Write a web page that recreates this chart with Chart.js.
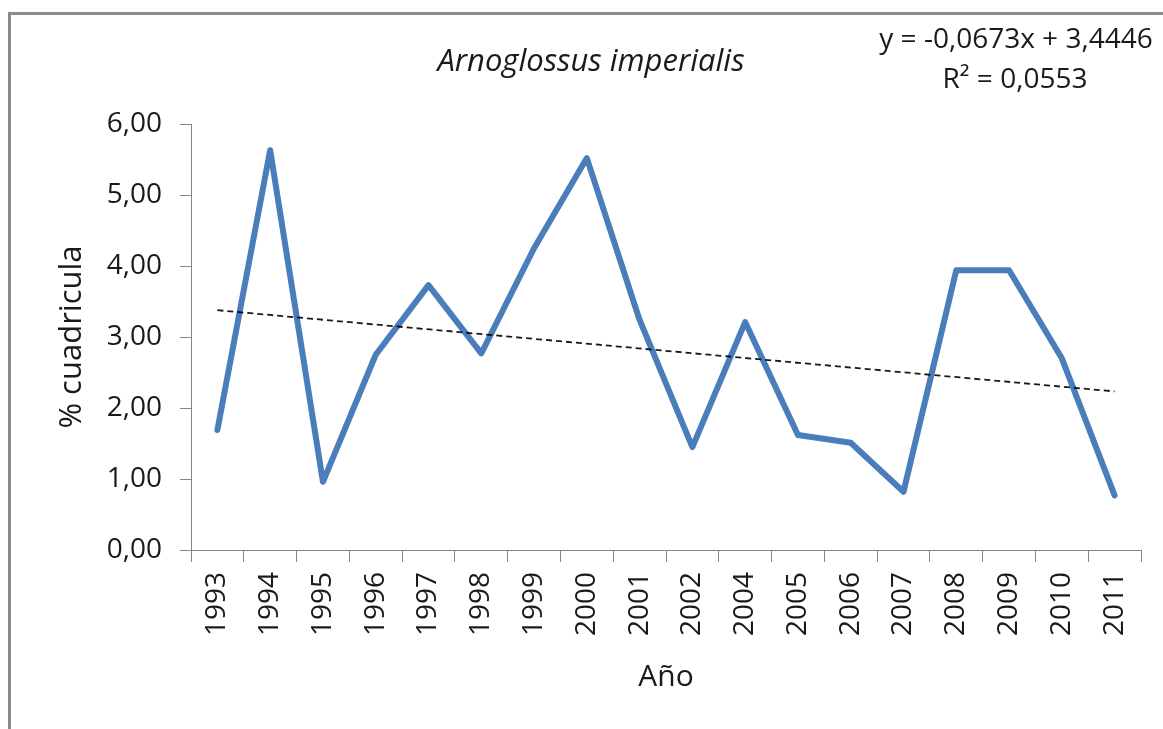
<!DOCTYPE html>
<html lang="es">
<head>
<meta charset="utf-8">
<title>Arnoglossus imperialis</title>
<script src="https://cdn.jsdelivr.net/npm/chart.js@4.4.1/dist/chart.umd.min.js"></script>
<style>
  html, body { margin: 0; padding: 0; background: #fff; }
  #wrap { position: relative; width: 1163px; height: 729px; }
  #frame {
    position: absolute; left: 8px; top: 12px; right: 0; bottom: 0;
    border-top: 3px solid #8c8c8c; border-left: 3px solid #8c8c8c;
    pointer-events: none;
  }
</style>
</head>
<body>
<div id="wrap">
  <canvas id="chart" width="1163" height="729"></canvas>
  <div id="frame"></div>
</div>
<script>
/* DATA */
const years = ['1993', '1994', '1995', '1996', '1997', '1998', '1999', '2000', '2001',
  '2002', '2004', '2005', '2006', '2007', '2008', '2009', '2010', '2011'];
const cuadricula = [1.69, 5.63, 0.96, 2.75, 3.73, 2.77, 4.25, 5.52, 3.24,
  1.45, 3.21, 1.62, 1.51, 0.82, 3.94, 3.94, 2.70, 0.77];
const yTickLabels = ['0,00', '1,00', '2,00', '3,00', '4,00', '5,00', '6,00'];

/* linear trend as printed on the chart */
const trendSlope = -0.0673;
const trendIntercept = 3.4446;
const trendR2 = 0.0553;

/* COLORS / FONTS */
const blue = '#4a7ebb';
const axisGray = '#868686';
const ink = '#1a1a1a';
const face = '"Open Sans", "Liberation Sans", sans-serif';

const comma = (n) => String(n).replace('.', ',');
const trendAt = (i) => trendSlope * (i + 1) + trendIntercept;

const trendPoints = [
  { x: years[0], y: trendAt(0) },
  { x: years[years.length - 1], y: trendAt(years.length - 1) },
];

/* PLUGIN: title + trend equation */
const chartText = {
  id: 'chartText',
  afterDraw(chart) {
    const ctx = chart.ctx;
    ctx.save();
    ctx.fillStyle = ink;
    ctx.textAlign = 'center';
    ctx.textBaseline = 'middle';

    ctx.font = `italic 31px ${face}`;
    ctx.fillText('Arnoglossus imperialis', 591, 62);

    ctx.font = `28px ${face}`;
    ctx.fillText(`y = ${comma(trendSlope)}x + ${comma(trendIntercept)}`, 1016, 40);
    ctx.fillText(`R² = ${comma(trendR2)}`, 1015, 80);
    ctx.restore();
  },
};

new Chart(document.getElementById('chart'), {
  type: 'line',
  data: {
    labels: years,
    datasets: [
      {
        label: '% cuadricula',
        data: cuadricula,
        borderColor: blue,
        borderWidth: 6,
        borderJoinStyle: 'round',
        borderCapStyle: 'round',
        pointRadius: 0,
        tension: 0,
        order: 1,
      },
      {
        label: 'Lineal',
        data: trendPoints,
        borderColor: 'rgba(0,0,0,0.9)',
        borderWidth: 1.8,
        borderDash: [6, 4],
        pointRadius: 0,
        order: 0,
      },
    ],
  },
  options: {
    responsive: false,
    animation: false,
    layout: { padding: { top: 124, right: 22, bottom: 0, left: 0 } },
    plugins: {
      legend: { display: false },
      tooltip: { enabled: false },
    },
    scales: {
      x: {
        offset: true,
        afterFit: (scale) => { scale.height = 179; },
        grid: {
          offset: true,
          drawOnChartArea: false,
          tickLength: 12,
          color: axisGray,
        },
        border: { color: axisGray, width: 1 },
        ticks: {
          color: ink,
          font: { family: face, size: 28 },
          minRotation: 90,
          maxRotation: 90,
          autoSkip: false,
          padding: 10,
        },
        title: {
          display: true,
          text: 'Año',
          color: ink,
          font: { family: face, size: 30 },
          padding: { top: 0, bottom: 34 },
        },
      },
      y: {
        min: 0,
        max: 6,
        afterFit: (scale) => { scale.width = 191; },
        grid: {
          drawOnChartArea: false,
          tickLength: 11,
          color: axisGray,
        },
        border: { color: axisGray, width: 1 },
        ticks: {
          stepSize: 1,
          color: ink,
          font: { family: face, size: 28 },
          padding: 18,
          callback: (v, i) => yTickLabels[i],
        },
        title: {
          display: true,
          text: '% cuadricula',
          color: ink,
          font: { family: face, size: 31 },
          padding: { top: 54, bottom: 0 },
        },
      },
    },
  },
  plugins: [chartText],
});
</script>
</body>
</html>
